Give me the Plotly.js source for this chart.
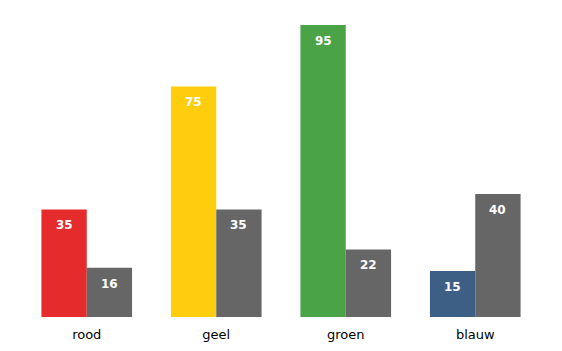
<!DOCTYPE html>
<html>
<head>
<meta charset="utf-8">
<script src="https://cdn.plot.ly/plotly-3.0.1.min.js"></script>
<style>html,body{margin:0;padding:0;background:#fff;}#chart{width:562px;height:351px;}</style>
</head>
<body>
<div id="chart"></div>
<script>
const categories = ["rood", "geel", "groen", "blauw"];
const seriesA = [35, 75, 95, 15];
const seriesB = [16, 35, 22, 40];
const colorsA = ["#e52b2b", "#fecd0e", "#4ba347", "#3d5e85"];
const colorB = "#666666";

const font = "DejaVu Sans, sans-serif";
const traces = [
  {type: "bar", x: categories, y: seriesA, marker: {color: colorsA, line: {width: 0}}, hoverinfo: "none"},
  {type: "bar", x: categories, y: seriesB, marker: {color: colorB, line: {width: 0}}, hoverinfo: "none"}
];
const annotations = [];
[seriesA, seriesB].forEach((s, k) => {
  s.forEach((v, i) => {
    annotations.push({
      x: i + (k === 0 ? -0.175 : 0.175), xref: "x", y: v, yref: "y",
      text: "<b>" + v + "</b>", showarrow: false, yanchor: "top", yshift: -7,
      font: {family: font, size: 12, color: "#ffffff"}
    });
  });
});
Plotly.newPlot("chart", traces, {
  width: 562, height: 351,
  margin: {l: 22, r: 22, t: 25, b: 34},
  barmode: "group", bargap: 0.3, bargroupgap: 0,
  showlegend: false,
  paper_bgcolor: "#ffffff", plot_bgcolor: "#ffffff",
  font: {family: font, size: 13, color: "#000000"},
  xaxis: {showgrid: false, zeroline: false, showline: false, ticks: "", ticklabelstandoff: 8, tickfont: {family: font, size: 13, color: "#000"}},
  yaxis: {range: [0, 95], visible: false, showgrid: false, zeroline: false},
  annotations: annotations
}, {staticPlot: true});
</script>
</body>
</html>
